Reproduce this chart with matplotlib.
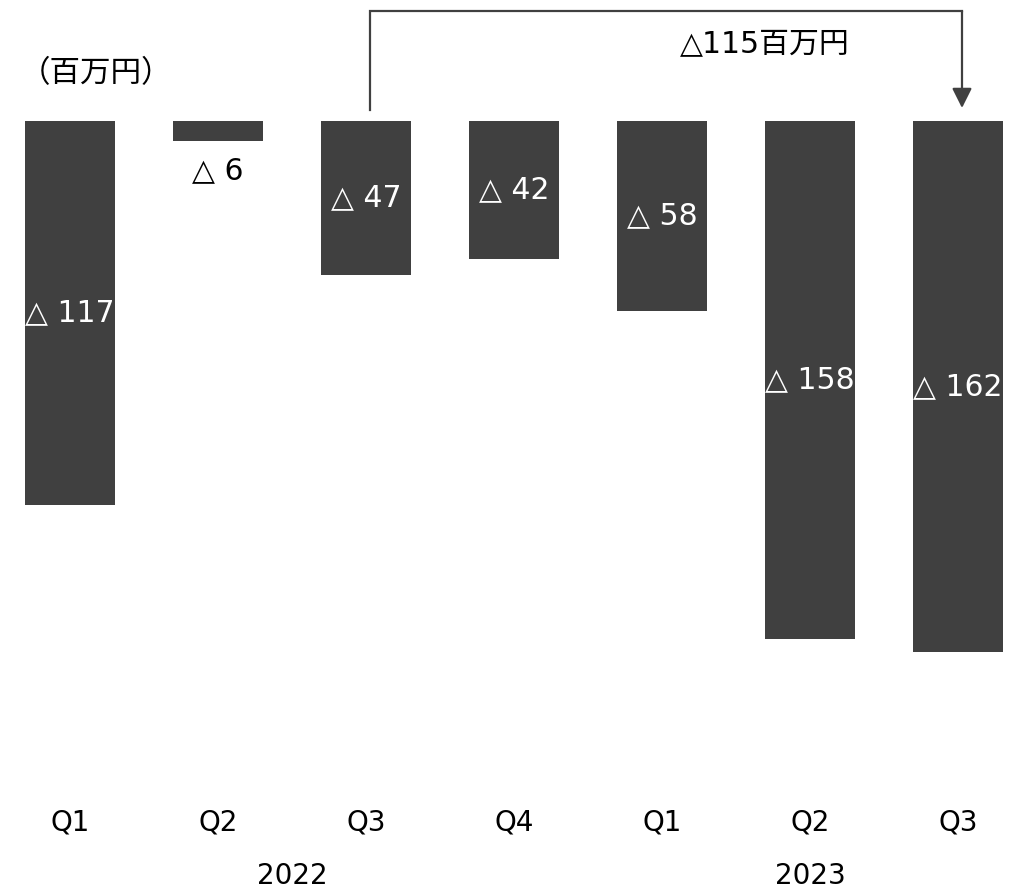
import numpy as np
import matplotlib
matplotlib.use("Agg")
from matplotlib import pyplot as plt

plt.rcParams['font.family'] = ['DejaVu Sans', 'Noto Sans CJK JP']

quarters = ["Q1", "Q2", "Q3", "Q4", "Q1", "Q2", "Q3"]
years = ["2022", "2023"]
year_spans = [(0, 3), (4, 6)]
losses = [117, 6, 47, 42, 58, 158, 162]
bridge_from, bridge_to = 2, 6
bridge_label = "△115百万円"
unit_label = "（百万円）"

bar_color = "#404040"
px_per_unit = 3.28

fig = plt.figure(figsize=(10.25, 8.9), dpi=100)
ax = fig.add_axes([0, 0, 1, 1])
ax.set_xlim(-70 / 148, (1025 - 70) / 148)
ax.set_ylim((890 - 121) / px_per_unit, -121 / px_per_unit)
ax.axis("off")

x = np.arange(len(losses))
ax.bar(x, losses, width=90 / 148, bottom=0, color=bar_color)

# value labels: inside the bar in white, below it when the bar is too short
for xi, v in zip(x, losses):
    if v < 20:
        ax.text(xi, v + 9, f"△ {v}", ha="center", va="center",
                fontsize=21.5, color="black")
    else:
        ax.text(xi, v / 2, f"△ {v}", ha="center", va="center",
                fontsize=21.5, color="white")

# quarter and year labels
for xi, q in zip(x, quarters):
    ax.text(xi, (823 - 121) / px_per_unit, q, ha="center", va="center",
            fontsize=20, color="black")
for yr, (a, b) in zip(years, year_spans):
    ax.text((a + b) / 2, (876 - 121) / px_per_unit, yr, ha="center",
            va="center", fontsize=20, color="black")

# bracket from Q3 2022 to Q3 2023
x0 = bridge_from + 4 / 148
x1 = bridge_to + 4 / 148
top = -110 / px_per_unit
ax.plot([x0, x0, x1], [-11 / px_per_unit, top, top], color=bar_color,
        lw=1.6, solid_joinstyle="miter")
ax.annotate("", xy=(x1, -13 / px_per_unit), xytext=(x1, top),
            arrowprops=dict(arrowstyle="-|>", color=bar_color, lw=1.6,
                            mutation_scale=30, shrinkA=0, shrinkB=0))
ax.text((765 - 70) / 148, -76 / px_per_unit, bridge_label, ha="center",
        va="center", fontsize=21.5, color="black")

ax.text(20 / 148 - 70 / 148, -47 / px_per_unit, unit_label, ha="left",
        va="center", fontsize=22, color="black",
        family=['Noto Sans CJK JP', 'DejaVu Sans'])

fig.savefig("out.png", dpi=100)
